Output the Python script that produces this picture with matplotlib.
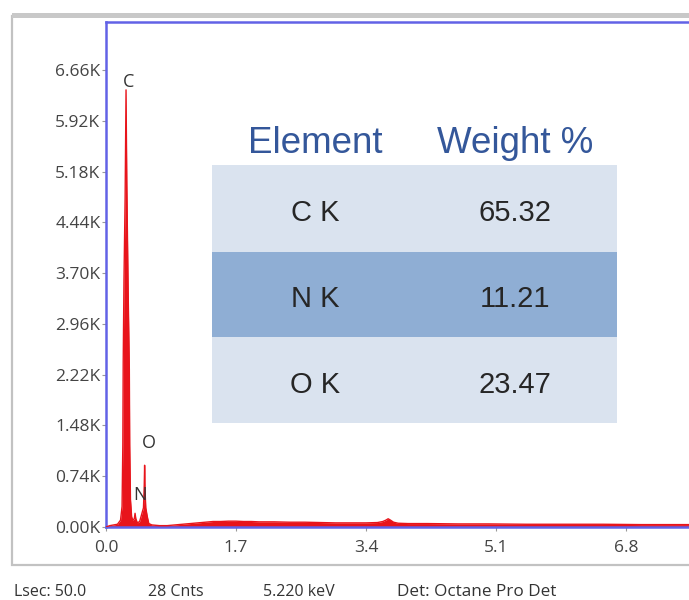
import matplotlib
matplotlib.use("Agg")
import matplotlib.pyplot as plt
from matplotlib.patches import Rectangle

# EDS spectrum (energy in keV, counts in thousands)
energy_kev = [0.00, 0.05, 0.10, 0.15, 0.19, 0.21, 0.22, 0.225, 0.235, 0.25, 0.262,
              0.272, 0.29, 0.305, 0.31, 0.32, 0.335, 0.35, 0.37, 0.38, 0.39, 0.41,
              0.44, 0.47, 0.49, 0.50, 0.505, 0.51, 0.52, 0.54, 0.56, 0.60, 0.70,
              0.80, 0.90, 1.00, 1.10, 1.20, 1.30, 1.40, 1.50, 1.60, 1.70, 1.80,
              1.90, 2.00, 2.20, 2.40, 2.60, 2.80, 3.00, 3.20, 3.40, 3.55, 3.62,
              3.66, 3.69, 3.72, 3.76, 3.82, 3.95, 4.20, 4.60, 5.00, 5.50, 6.00,
              6.50, 7.00, 7.50, 7.80]
counts_k = [0.00, 0.02, 0.03, 0.04, 0.10, 0.30, 1.20, 2.40, 3.60, 4.80, 6.37,
            5.00, 3.40, 2.30, 1.20, 0.40, 0.15, 0.10, 0.12, 0.20, 0.12, 0.06,
            0.08, 0.20, 0.28, 0.60, 0.90, 0.55, 0.28, 0.15, 0.05, 0.03, 0.02,
            0.02, 0.03, 0.04, 0.05, 0.06, 0.07, 0.08, 0.08, 0.085, 0.085, 0.08,
            0.08, 0.075, 0.075, 0.07, 0.07, 0.065, 0.06, 0.06, 0.06, 0.065, 0.08,
            0.10, 0.12, 0.10, 0.07, 0.055, 0.05, 0.05, 0.045, 0.045, 0.04, 0.04,
            0.04, 0.035, 0.035, 0.035]

peak_labels = ["C", "N", "O"]
peak_label_x = [0.30, 0.44, 0.56]
peak_label_y = [6.49, 0.46, 1.22]

x_ticks = [0.0, 1.7, 3.4, 5.1, 6.8]
y_ticks = [0.00, 0.74, 1.48, 2.22, 2.96, 3.70, 4.44, 5.18, 5.92, 6.66]

table_headers = ["Element", "Weight %"]
table_elements = ["C K", "N K", "O K"]
table_weights = ["65.32", "11.21", "23.47"]

status_items = ["Lsec: 50.0", "28 Cnts", "5.220 keV", "Det: Octane Pro Det"]

W, H = 689, 600
fig = plt.figure(figsize=(W / 100, H / 100), dpi=100)
fig.patch.set_facecolor("white")


def fx(px):
    return px / W


def fy(py):
    return 1 - py / H


# outer panel frame
fig.add_artist(Rectangle((fx(12), fy(565)), fx(720) - fx(12), fy(16) - fy(565),
                         transform=fig.transFigure, facecolor="white",
                         edgecolor="#c2c2c2", linewidth=1.6, zorder=0))
fig.add_artist(Rectangle((fx(12), fy(18)), fx(720) - fx(12), fy(13.5) - fy(18),
                         transform=fig.transFigure, facecolor="#c8c8c8",
                         edgecolor="none", zorder=0))

# spectrum axes (right edge runs past the canvas)
ax = fig.add_axes([fx(106), fy(527), fx(700) - fx(106), fy(22) - fy(527)])
ax.set_facecolor("white")
ax.set_xlim(0, 594 / 76.47)
ax.set_ylim(0, 505 / 68.62)

red = "#e8141b"
ax.fill_between(energy_kev, counts_k, 0, color=red, linewidth=0, zorder=2)
ax.plot(energy_kev, counts_k, color=red, linewidth=1.0, zorder=3)

lab_font = dict(family="Open Sans", size=13, color="#333333")
for s, x, y in zip(peak_labels, peak_label_x, peak_label_y):
    ax.text(x, y, s, ha="center", va="center", **lab_font)

blue = "#6262e6"
for side in ["top", "left", "bottom", "right"]:
    ax.spines[side].set_color(blue)
    ax.spines[side].set_linewidth(1.8)

ax.set_xticks(x_ticks)
ax.set_xticklabels([f"{v:.1f}" for v in x_ticks])
ax.set_yticks(y_ticks)
ax.set_yticklabels([f"{v:.2f}K" for v in y_ticks])
ax.tick_params(axis="both", direction="out", length=3, width=0.8,
               color="#999999", labelcolor="#444444", labelsize=12.5)
ax.tick_params(axis="y", pad=1)
ax.tick_params(axis="x", pad=6)
for t in ax.get_xticklabels() + ax.get_yticklabels():
    t.set_fontfamily("Open Sans")

# composition table
row_top = [165, 252, 337]
row_bot = [252, 337, 423]
row_colors = ["#dae3ef", "#8faed4", "#dae3ef"]
for top, bot, c in zip(row_top, row_bot, row_colors):
    fig.add_artist(Rectangle((fx(212), fy(bot)), fx(617) - fx(212), fy(top) - fy(bot),
                             transform=fig.transFigure, facecolor=c,
                             edgecolor="none", zorder=5))

col_x = [315, 515]
for s, x in zip(table_headers, col_x):
    fig.text(fx(x), fy(153), s, ha="center", va="baseline",
             family="Liberation Sans", size=26.5, color="#34579a", zorder=6)

baselines = [221, 307, 393]
for el, wt, b in zip(table_elements, table_weights, baselines):
    fig.text(fx(col_x[0]), fy(b), el, ha="center", va="baseline",
             family="Liberation Sans", size=21, color="#262626", zorder=6)
    fig.text(fx(col_x[1]), fy(b), wt, ha="center", va="baseline",
             family="Liberation Sans", size=21, color="#262626", zorder=6)

# status bar
status_x = [14, 148, 263, 397]
status_size = [11.5, 11.5, 11.5, 12.3]
for s, x, fs in zip(status_items, status_x, status_size):
    fig.text(fx(x), fy(596), s, ha="left", va="baseline",
             family="Open Sans", size=fs, color="#333333")

fig.savefig("out.png", dpi=100, facecolor="white")
